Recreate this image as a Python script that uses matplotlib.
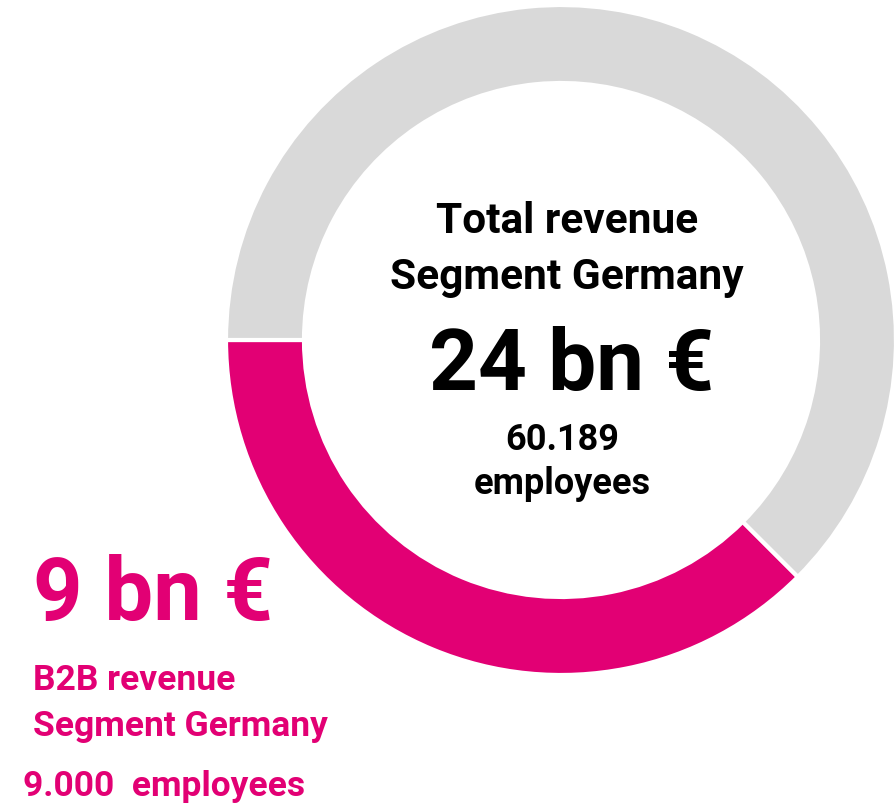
import matplotlib.pyplot as plt

# revenue split, bn EUR
segments = ["B2B", "Other"]
revenue = [9, 15]
colors = ["#E20074", "#D9D9D9"]

total_lbl = ["Total revenue", "Segment Germany"]
total_value = "24 bn €"
total_emp = ["60.189", "employees"]
b2b_value = "9 bn €"
b2b_lbl = ["B2B revenue", "Segment Germany"]
b2b_emp = "9.000  employees"

W, H = 894, 806
magenta = "#E20074"
font = "Roboto"

fig = plt.figure(figsize=(W / 100, H / 100), dpi=100)
ax = fig.add_axes([0, 0, 1, 1])

ax.pie(revenue, colors=colors, startangle=180, counterclock=True,
       center=(561, H - 340), radius=335, frame=True,
       wedgeprops=dict(width=78, edgecolor="white", linewidth=3))
ax.set_xlim(0, W)
ax.set_ylim(0, H)
ax.set_aspect("equal")
ax.axis("off")

def put(x, y, s, size, color="black", ha="center"):
    ax.text(x, H - y, s, fontsize=size, fontweight="bold", family=font,
            color=color, ha=ha, va="baseline")

put(567, 233, total_lbl[0], 30.5)
put(567, 289, total_lbl[1], 30.5)
put(572, 390, total_value, 61.5)
put(562, 450, total_emp[0], 26)
put(562, 494, total_emp[1], 26)

put(33, 620, b2b_value, 62.5, magenta, "left")
put(33, 690, b2b_lbl[0], 25.5, magenta, "left")
put(33, 736, b2b_lbl[1], 25.5, magenta, "left")
put(23, 796, b2b_emp, 25.5, magenta, "left")

fig.savefig("out.png", dpi=100)
